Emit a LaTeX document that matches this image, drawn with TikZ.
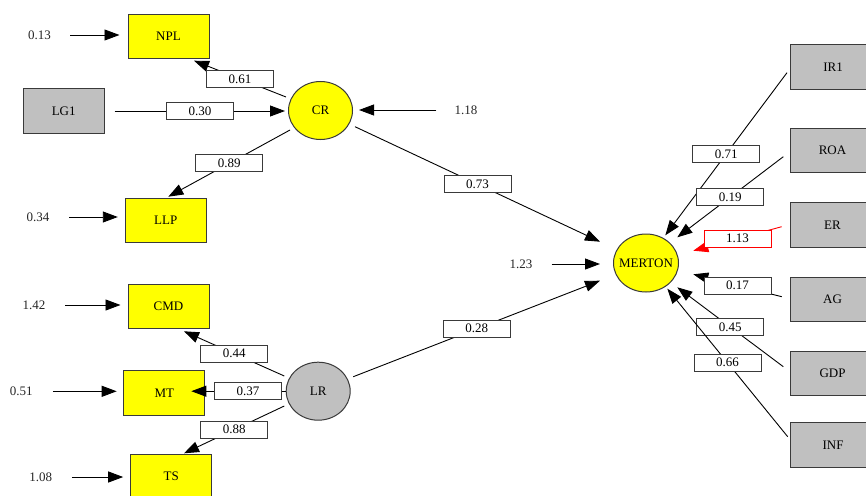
\documentclass[tikz,border=0pt]{standalone}
\usepackage{fontspec}
\setmainfont{Liberation Serif}
\usetikzlibrary{arrows.meta,calc,shapes.geometric}
\definecolor{boxgray}{HTML}{C0C0C0}
\definecolor{bord}{HTML}{3A3A3A}
\definecolor{pyellow}{HTML}{FFFF00}
\begin{document}
\begin{tikzpicture}[x=1pt,y=-1pt,
  font=\fontsize{13}{15}\selectfont,
  obs/.style={rectangle, minimum width=81pt, minimum height=44.5pt, inner sep=0pt, draw=bord, line width=1pt},
  ybox/.style={obs, fill=pyellow},
  gbox/.style={obs, fill=boxgray},
  rbox/.style={obs, fill=boxgray, minimum width=85pt},
  lat/.style={ellipse, minimum width=64pt, minimum height=58pt, inner sep=0pt, draw=bord, line width=1pt},
  lbl/.style={draw=bord, fill=white, minimum width=67pt, minimum height=17pt, inner sep=0pt, line width=0.8pt, text=black},
  errt/.style={inner sep=0pt, text=black!85},
  arr/.style={-{Triangle[length=15pt,width=11pt]}, line width=0.9pt, draw=black},
]
\clip (0,0) rectangle (866,495);
\fill[white] (0,0) rectangle (866,495);

% latent / observed nodes
\node[ybox] (NPL) at (168.5,36.5) {NPL};
\node[gbox] (LG1) at (63.7,111) {LG1};
\node[lat, fill=pyellow] (CR) at (320.5,110.5) {CR};
\node[ybox] (LLP) at (165.8,220.3) {LLP};
\node[ybox] (CMD) at (168.5,306.7) {CMD};
\node[ybox] (MT) at (164.3,392.8) {MT};
\node[ybox] (TS) at (171.2,476.7) {TS};
\node[lat, fill=boxgray] (LR) at (318.2,391.2) {LR};
\node[lat, fill=pyellow, minimum width=65pt] (MERTON) at (646,263) {\makebox[0pt]{MERTON}};

\node[rbox] (IR1) at (833,67) {IR1};
\node[rbox] (ROA) at (832.5,150.7) {ROA};
\node[rbox] (ER) at (832.5,225) {ER};
\node[rbox] (AG) at (832.5,299.5) {AG};
\node[rbox] (GDP) at (832.5,373.7) {GDP};
\node[rbox] (INF) at (833,445) {INF};

% error terms
\node[errt] (e13) at (39.5,35) {0.13};
\node[errt] (e34) at (38,217) {0.34};
\node[errt] (e142) at (34,305) {1.42};
\node[errt] (e51) at (21.3,391.3) {0.51};
\node[errt] (e108) at (40.7,477) {1.08};
\node[errt] (e118) at (466,110) {1.18};
\node[errt] (e123) at (521,264) {1.23};

\draw[arr, shorten <=19pt, shorten >=8pt] (e13.east) -- (e13.east -| NPL.west);
\draw[arr, shorten <=19.5pt, shorten >=7pt] (e34.east) -- (e34.east -| LLP.west);
\draw[arr, shorten <=19.5pt, shorten >=7pt] (e142.east) -- (e142.east -| CMD.west);
\draw[arr, shorten <=20pt, shorten >=6.6pt] (e51.east) -- (e51.east -| MT.west);
\draw[arr, shorten <=19.5pt, shorten >=7pt] (e108.east) -- (e108.east -| TS.west);
\draw[arr, shorten <=18pt, shorten >=6pt] (e118.west) -- (e118.west -| CR.east);
\draw[arr, shorten <=19pt, shorten >=13pt] (e123.east) -- (e123.east -| MERTON.west);

% left structural / measurement paths
\draw[arr, shorten <=10pt, shorten >=3pt] (LG1.east) -- node[lbl, pos=0.52] {0.30} (LG1.east -| CR.west);
\draw[arr] ($(CR)+(-34.5,-13.5)$) -- node[lbl] {0.61} ($(NPL)+(25.5,24.2)$);
\draw[arr] ($(CR)+(-30.5,19.5)$) -- node[lbl] {0.89} ($(LLP)+(2.5,-23.6)$);
\draw[arr] ($(CR)+(34.5,16.2)$) -- node[lbl] {0.73} ($(MERTON)+(-46,-21.3)$);
\draw[arr] ($(LR)+(35.1,-14.5)$) -- node[lbl] {0.28} ($(MERTON)+(-46,17.7)$);
\draw[arr] ($(LR)+(-33.9,-15.2)$) -- node[lbl] {0.44} ($(CMD)+(15.5,24.6)$);
\draw[arr] (LR.west) -- node[lbl, pos=0.4] {0.37} ($(LR.west -| MT.east)+(-14,0)$);
\draw[arr] ($(LR)+(-33.9,14.8)$) -- node[lbl] {0.88} ($(TS)+(12.8,-23.4)$);

% right formative paths
\draw[arr] ($(IR1)+(-46,5.7)$) -- node[lbl] {0.71} ($(MERTON)+(19.3,-27.7)$);
\draw[arr] ($(ROA)+(-49.2,6)$) -- node[lbl] {0.19} ($(MERTON)+(31.3,-25.7)$);
\draw[arr, draw=red, -{Triangle[length=15pt,width=11pt,fill=red]}] ($(ER)+(-50.8,1.7)$) -- node[lbl, draw=red] {1.13} ($(MERTON)+(47.3,-12.3)$);
\draw[arr] ($(AG)+(-50.8,-2.8)$) -- node[lbl] {0.17} ($(MERTON)+(47.3,11.3)$);
\draw[arr] ($(GDP)+(-49.2,-7)$) -- node[lbl] {0.45} ($(MERTON)+(31.3,24.3)$);
\draw[arr] ($(INF)+(-45.3,-8.3)$) -- node[lbl] {0.66} ($(MERTON)+(21.3,25.7)$);
\end{tikzpicture}
\end{document}
